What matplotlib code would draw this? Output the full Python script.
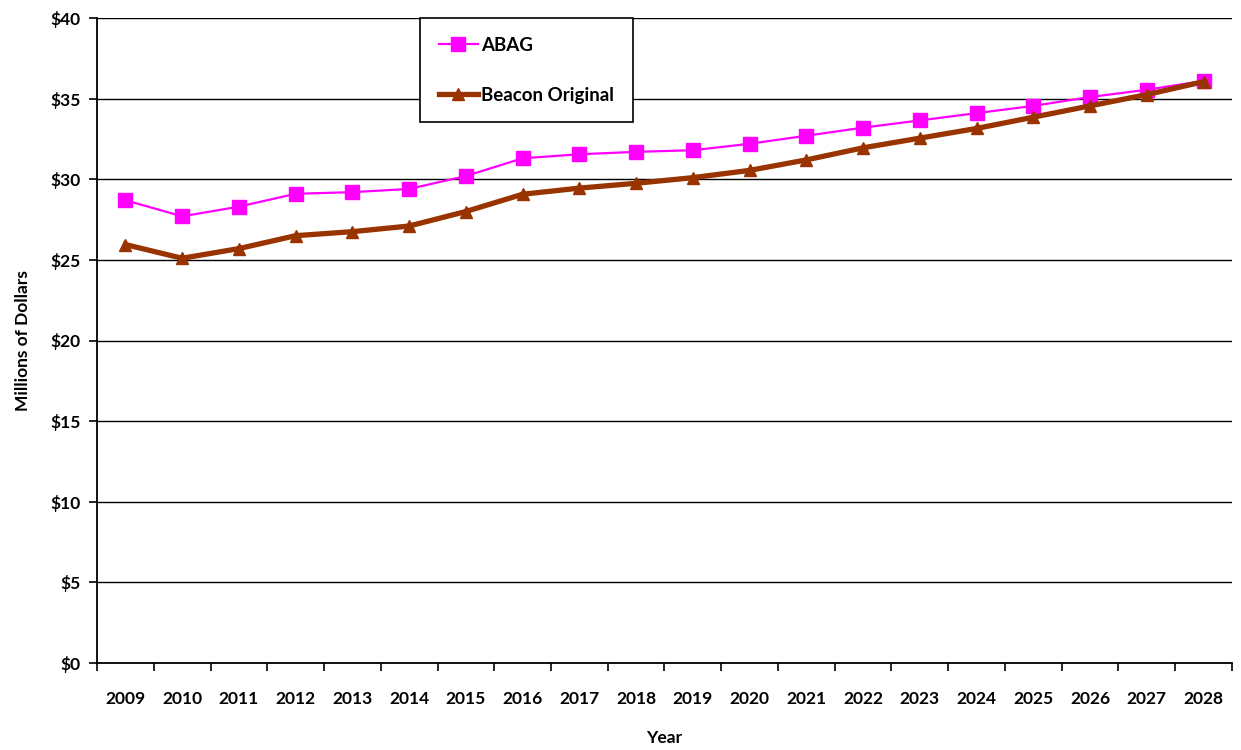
import matplotlib.pyplot as plt
import numpy as np
from matplotlib.ticker import FuncFormatter, MultipleLocator

# Annual revenue projections, millions of dollars
YEARS = [str(y) for y in range(2009, 2029)]
ABAG = [28.7, 27.7, 28.3, 29.1, 29.2, 29.4, 30.2, 31.3, 31.55, 31.7,
        31.8, 32.2, 32.7, 33.2, 33.65, 34.1, 34.55, 35.1, 35.55, 36.1]
BEACON = [25.95, 25.1, 25.7, 26.5, 26.75, 27.1, 28.0, 29.07, 29.45, 29.75,
          30.1, 30.55, 31.2, 31.95, 32.55, 33.15, 33.85, 34.55, 35.25, 36.05]

plt.rcParams['font.family'] = ['Lato', 'DejaVu Sans']
plt.rcParams['font.weight'] = 'bold'

fig = plt.figure(figsize=(12.41, 7.5), dpi=100)
ax = fig.add_axes([0.0782, 0.116, 0.9145, 0.86])

x = np.arange(len(YEARS))
ax.plot(x, ABAG, color='#FF00FF', lw=1.6, marker='s', ms=10,
        label='ABAG', zorder=3)
ax.plot(x, BEACON, color='#993300', lw=3.8, marker='^', ms=9,
        label='Beacon Original', zorder=4)

ax.set_xlim(-0.5, len(YEARS) - 0.5)
ax.set_ylim(0, 40)
ax.yaxis.set_major_locator(MultipleLocator(5))
ax.yaxis.set_major_formatter(FuncFormatter(lambda v, p: f'${v:.0f}'))
ax.grid(axis='y', color='black', lw=1.0)
ax.set_axisbelow(True)

ax.set_xticks(x)
ax.set_xticklabels(YEARS)
ax.set_xticks(np.arange(-0.5, len(YEARS)), minor=True)
ax.tick_params(axis='x', which='major', length=0, pad=20, labelsize=12.5)
ax.tick_params(axis='x', which='minor', length=6, width=1.2, direction='out')
ax.tick_params(axis='y', length=6, width=1.2, pad=6, labelsize=12.5)

for side in ('top', 'right'):
    ax.spines[side].set_visible(False)
for side in ('left', 'bottom'):
    ax.spines[side].set_linewidth(1.3)

ax.set_xlabel('Year', fontsize=12.5, fontweight='bold', labelpad=17)
ax.set_ylabel('Millions of Dollars', fontsize=12.5, fontweight='bold',
              labelpad=14)

leg = ax.legend(loc='upper left', bbox_to_anchor=(0.2846, 1.0),
                borderaxespad=0, fancybox=False, edgecolor='black',
                framealpha=1, fontsize=13.5, labelspacing=1.75,
                borderpad=1.0, handlelength=2.1, handletextpad=0.15)
leg.get_frame().set_linewidth(1.2)
for t in leg.get_texts():
    t.set_fontweight('bold')

plt.savefig('out.png', dpi=100)
